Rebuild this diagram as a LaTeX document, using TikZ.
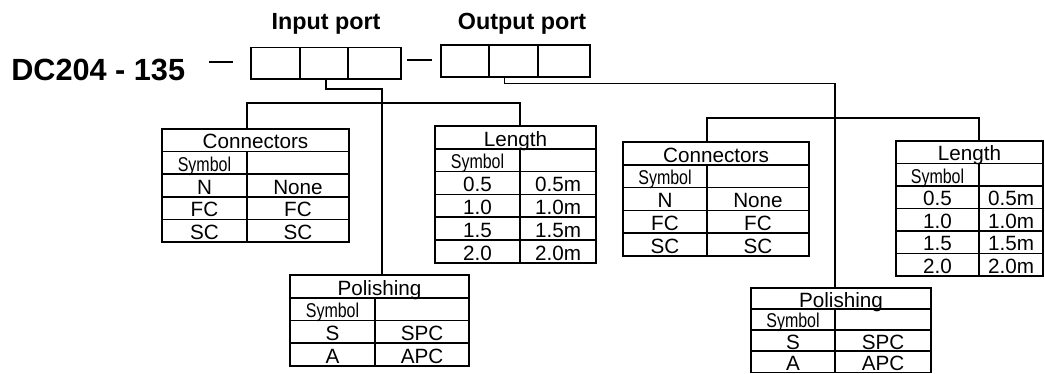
\documentclass[tikz,border=0pt]{standalone}
\usepackage{fontspec}
\setmainfont{Liberation Sans}
\tikzset{
  tabline/.style={line width=1.3pt},
  wire/.style={line width=1.1pt},
  portbox/.style={line width=1.2pt},
  tabtext/.style={inner sep=0pt, font=\fontsize{15.5}{16}\selectfont, text height=11pt, text depth=0pt},
  symtext/.style={inner sep=0pt, font=\fontsize{15}{15}\selectfont, xscale=0.8, text height=10.5pt, text depth=0pt},
  portlabel/.style={inner sep=0pt, anchor=base, font=\bfseries\fontsize{17.5}{18}\selectfont},
}
% #1 name, #2 x left, #3 x divider, #4 x right, #5 y top, #6 row height, #7 rows (incl. Symbol), #8 header, #9 rows
\newcommand\spectab[9]{%
  \draw[tabline] (#2,#5) rectangle (#4,{#5+(#7+1)*#6});
  \draw[tabline] (#2,{#5+#6}) -- (#4,{#5+#6});
  \draw[tabline] (#3,{#5+#6}) -- (#3,{#5+(#7+1)*#6});
  \coordinate (#1-top) at (#3,#5);
  \node[tabtext] (#1-head) at ({(#2+#4)/2},{#5+0.56*#6}) {#8};
  \node[symtext] (#1-sym) at ({(#2+#3)/2},{#5+1.56*#6}) {Symbol};
  \foreach \a/\b [count=\i from 2] in {#9} {
    \draw[tabline] (#2,{#5+\i*#6}) -- (#4,{#5+\i*#6});
    \node[tabtext] (#1-l\i) at ({(#2+#3)/2},{#5+(\i+0.56)*#6}) {\a};
    \node[tabtext] (#1-r\i) at ({(#3+#4)/2},{#5+(\i+0.56)*#6}) {\b};
  }
}
\begin{document}
\begin{tikzpicture}[x=0.75pt,y=-0.75pt]
\useasboundingbox (0,0) rectangle (1045,374);
\clip (0,0) rectangle (1045,374);

% title
\node[anchor=base west, inner sep=0pt, font=\bfseries\fontsize{23}{23}\selectfont] (title) at (11,81) {DC204 - 135};
\draw[wire] (209,62) -- (233,62);

% port labels
\node[portlabel] (inlab) at (326,30) {Input port};
\node[portlabel] (outlab) at (522,30) {Output port};

% input port boxes
\draw[portbox] (250.7,47.5) rectangle (400.7,79.3);
\draw[portbox] (300,47.5) -- (300,79.3);
\draw[portbox] (348,47.5) -- (348,79.3);
\draw[wire] (407,60) -- (432,60);
% output port boxes
\draw[portbox] (440.7,45) rectangle (590,77);
\draw[portbox] (489,45) -- (489,77);
\draw[portbox] (537.7,45) -- (537.7,77);

% tables
\spectab{ic}{162}{247}{349}{129}{22.6}{4}{Connectors}{N/None,FC/FC,SC/SC}
\spectab{il}{435}{520}{596}{126}{22.8}{5}{Length}{0.5/0.5m,1.0/1.0m,1.5/1.5m,2.0/2.0m}
\spectab{ip}{290}{375}{469}{275}{22.75}{3}{Polishing}{S/SPC,A/APC}
\spectab{oc}{623}{707}{809}{142}{22.8}{4}{Connectors}{N/None,FC/FC,SC/SC}
\spectab{ol}{896}{979}{1043}{141}{22.5}{5}{Length}{0.5/0.5m,1.0/1.0m,1.5/1.5m,2.0/2.0m}
\spectab{op}{751}{835}{931}{288}{21.1}{3}{Polishing}{S/SPC,A/APC}

% input wiring
\coordinate (in-b) at (326,79.3);
\coordinate (ibend) at (382,89);
\coordinate (ipjoin) at (382,275);
\coordinate (ibus) at (382,103);
\draw[wire] (in-b) |- (ibend) -- (ipjoin);
\draw[wire] (ic-top) -- (ic-top |- ibus) -- (il-top |- ibus) -- (il-top);

% output wiring
\coordinate (out-b) at (504.3,77);
\coordinate (obend) at (835,83.3);
\coordinate (obus) at (835,118);
\draw[wire] (out-b) |- (obend) -- (op-top);
\draw[wire] (oc-top) -- (oc-top |- obus) -- (ol-top |- obus) -- (ol-top);
\end{tikzpicture}
\end{document}
